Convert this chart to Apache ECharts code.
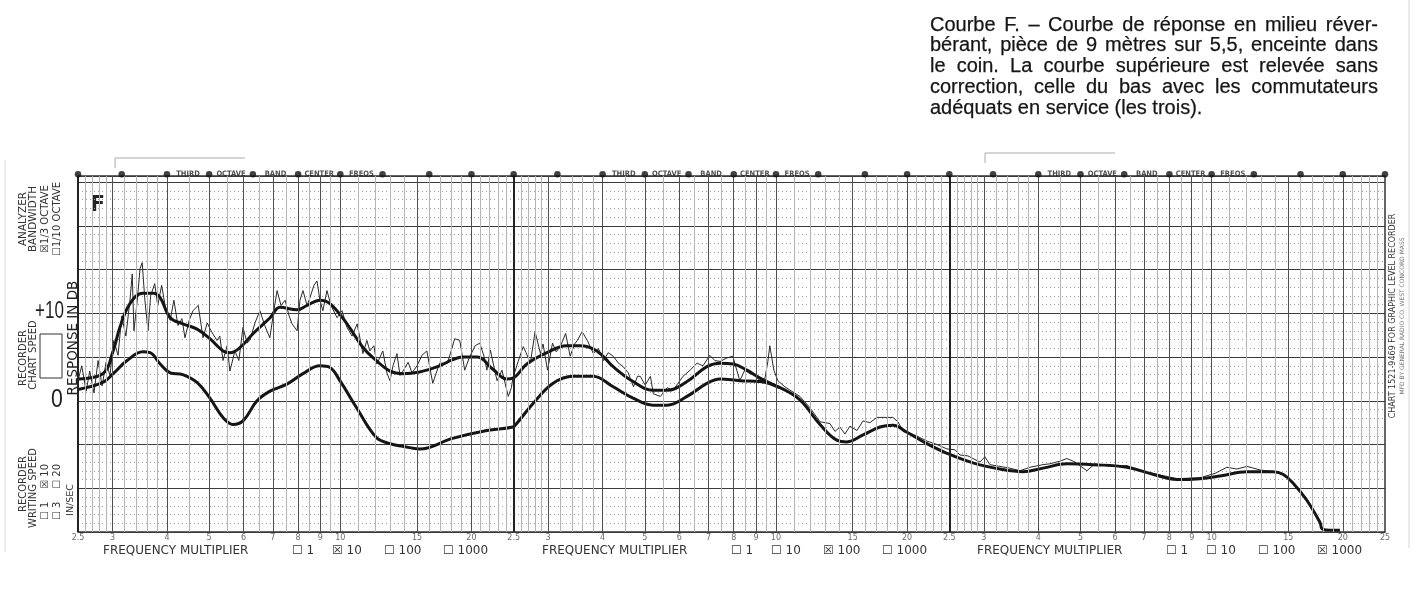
<!DOCTYPE html>
<html>
<head>
<meta charset="utf-8">
<script src="https://cdn.jsdelivr.net/npm/echarts@6/dist/echarts.min.js"></script>
<style>
  html, body { margin: 0; padding: 0; background: #fff; }
  #chart { width: 1416px; height: 593px; }
</style>
</head>
<body>
<div id="chart"></div>
<script>
// upper curve, taken without correction (smoothed pen trace), Hz / dB
const upperFreq = [25, 28.5, 30.1, 31.2, 32.9, 35.2, 37.2, 38.6, 40.7, 43.5, 46.9, 50.2, 53.8, 55.8, 58.9,
  63.1, 69, 72.7, 79.6, 83.9, 89.8, 94.7, 103.6, 112.7, 121, 130, 139, 152, 169, 181, 191, 206, 224, 241, 249,
  268, 298, 331, 355, 388, 423, 470, 522, 562, 625, 694, 744, 797, 858, 919, 1021];
const upperDb = [2.5, 3.1, 5.7, 8.4, 11.1, 12.3, 12.3, 11.8, 9.5, 8.8, 8.2, 7.1, 5.7, 5.5, 6.1,
  7.7, 9.5, 10.7, 10.4, 10.9, 11.5, 11.1, 8.8, 6.1, 4.6, 3.4, 3.1, 3.3, 4.0, 4.7, 5.0, 5.0, 3.6, 2.5, 2.6,
  4.2, 5.5, 6.3, 6.3, 5.7, 3.9, 2.2, 1.2, 1.2, 2.2, 3.9, 4.3, 4.2, 3.5, 2.6, 1.5];

// lower curve, with the three switches in service (joins the upper one above 1 kHz)
const lowerFreq = [25, 28.5, 30.1, 32.4, 35.2, 36.6, 38.6, 40.7, 43.5, 46.9, 50.2, 53.8, 56.7, 59.8, 64.4,
  69, 75.4, 82.1, 89.8, 94.7, 99.8, 109, 121, 130, 139, 152, 181, 217, 249, 254, 277, 308, 342, 380, 423,
  470, 522, 562, 625, 694, 744, 826, 919, 1021, 1135, 1262, 1380, 1455, 1585, 1733, 1855, 1998, 2221, 2468,
  2832, 3266, 3688, 4100, 4655, 5341, 6389, 7330, 8327, 9400, 10450, 12050, 13830, 14580, 15370, 16550,
  17730, 18000, 19700];
const lowerDb = [1.3, 2.1, 3.1, 4.6, 5.6, 5.5, 4.2, 3.2, 3.0, 2.1, 0.3, -1.9, -2.7, -2.3, 0,
  1.1, 1.9, 3.1, 4.0, 3.8, 2.3, -0.8, -4.2, -4.9, -5.2, -5.5, -4.3, -3.4, -3.0, -2.6, -0.3, 2.0, 2.8, 2.8, 1.6,
  0.3, -0.5, -0.5, 0.5, 2.0, 2.5, 2.3, 2.2, 1.5, 0.1, -2.7, -4.5, -4.7, -3.9, -3.0, -2.8, -3.6, -4.9, -6.0,
  -7.1, -7.8, -8.1, -7.7, -7.2, -7.3, -7.6, -8.4, -9.0, -8.9, -8.6, -8.1, -8.1, -8.4, -9.4, -11.4,
  -13.9, -14.7, -14.8];

// raw recorder trace of the upper curve
const rawFreq = [25, 25.5, 26.1, 26.6, 27.2, 27.8, 28.4, 29, 29.6, 30.2, 30.9, 31.5, 32.2, 32.9, 33.3, 33.6,
  34.2, 34.7, 35.1, 35.6, 36.2, 36.7, 37.5, 38.1, 38.9, 39.8, 40.7, 41.5, 42.4, 43.3, 44, 45, 45.9, 47.2,
  48.4, 49.5, 50.5, 52.1, 52.9, 53.8, 55, 55.8, 57.3, 58.5, 59.8, 61.1, 62, 63.7, 65.4, 67.1, 68.9, 70.4,
  71.6, 73.1, 74.7, 76.3, 77.5, 79.6, 80.8, 82.1, 83.9, 85.2, 87, 88.4, 89.8, 91.2, 93.2, 95.2, 98.3, 100.9,
  103.6, 106.4, 109.3, 112.7, 115.1, 116.9, 119.4, 121.3, 125.2, 127.9, 130, 132.1, 134.9, 137.1, 139.3,
  143.1, 146.1, 150, 154, 158,
  163, 169, 176, 180, 183, 188, 193, 198, 204, 209, 214, 217, 221, 225, 229, 235, 243, 247, 249, 256, 263,
  267, 273, 280, 288, 292, 299, 307, 313, 320, 329, 337, 345, 350, 359, 369, 381, 391, 402, 412, 423, 435,
  446, 458, 471, 481, 488, 501, 515, 523, 543, 563, 580, 596, 612, 635, 659, 680, 705, 724, 744, 772, 796,
  813, 826, 848, 871, 894, 918, 943, 958, 968, 978, 989, 1010, 1048,
  1135, 1197, 1262, 1330, 1366, 1402, 1440, 1478, 1534, 1584, 1643, 1705, 1798, 1855, 1905, 1956, 2080,
  2221, 2341, 2468, 2575, 2645, 2758, 2832, 2940, 3017, 3098, 3266, 3443, 3629, 3828, 4100, 4255, 4486,
  4655, 4856, 5172, 5398, 5842, 6389, 6848, 7330, 8327, 9400, 10180, 10840, 11430, 12050, 12910, 13830,
  14730, 15530, 16550, 17260, 17920, 18300];
const rawDb = [2.3, 4.0, 1.1, 3.4, 0.9, 4.6, 1.7, 4.4, 2.9, 6.9, 5.2, 9.7, 7.4, 11.5, 14.5, 8.0,
  11.5, 15.1, 15.8, 11.5, 8.0, 12.0, 13.4, 10.9, 13.2, 10.3, 9.2, 11.5, 8.6, 9.4, 7.2, 9.2, 10.3, 10.9,
  7.2, 8.9, 8.0, 6.9, 7.4, 4.6, 6.3, 3.4, 5.7, 4.6, 8.4, 6.6, 6.9, 8.9, 10.3, 8.6, 7.2, 10.3,
  12.6, 10.9, 11.5, 9.7, 8.8, 8.0, 11.5, 12.6, 10.9, 11.8, 13.2, 13.7, 11.5, 10.3, 12.6, 10.9, 9.5, 10.3,
  8.4, 7.4, 8.8, 5.4, 6.9, 5.7, 6.3, 4.2, 5.7, 3.2, 2.3, 4.0, 5.4, 2.9, 3.4,
  4.4, 3.2, 4.0, 5.2, 5.7,
  2.0, 4.3, 4.3, 5.8, 7.1, 6.9, 3.5, 5.0, 6.3, 6.6, 5.0, 3.5, 5.8, 4.0, 2.3, 3.5, 0.5, 1.5, 2.6, 4.5, 6.2,
  5.5, 4.3, 7.9, 5.4, 6.5, 3.5, 6.6, 5.6, 6.2, 7.7, 5.1, 6.5, 6.9, 7.9, 6.9, 5.4, 6.0, 4.6, 5.5, 5.1, 4.3,
  3.9, 3.2, 1.6, 2.8, 2.8, 1.8, 2.8, 0.8, 0.5, 1.5, 1.2, 2.0, 2.8, 3.5, 4.3, 4.0, 5.2, 4.6, 4.5, 4.9, 5.1,
  3.5, 2.3, 3.5, 3.1, 3.0, 2.3, 2.5, 4.5, 6.3, 6.3, 3.5, 2.3, 1.6,
  0.5, -0.8, -2.4, -2.6, -3.5, -3.0, -3.8, -2.9, -3.4, -2.3, -2.5, -1.9, -1.9, -1.9, -2.4, -3.4, -3.9,
  -4.6, -5.0, -5.5, -5.6, -6.2, -6.3, -6.6, -7.0, -6.4, -7.3, -7.5, -7.7, -8.0, -7.6, -7.3, -7.2, -6.9,
  -6.6, -7.0, -8.0, -7.2, -7.5, -7.4, -8.0, -8.3, -8.9, -8.8, -8.3, -7.6, -7.8, -7.5, -7.9, -8.1,
  -8.5, -9.6, -11.2, -12.8, -14.5, -14.8];

// paper printing: third octave band centres, tick multipliers
const thirdOctave = [25, 31.5, 40, 50, 63, 80, 100, 125, 160, 200, 250, 315, 400, 500, 630, 800, 1000,
  1250, 1600, 2000, 2500, 3150, 4000, 5000, 6300, 8000, 10000, 12500, 16000, 20000, 25000];
const bandWords = ['THIRD', 'OCTAVE', 'BAND', 'CENTER', 'FREQS'];
const bandStart = [2, 12, 22];
const tickMult = [2.5, 3, 4, 5, 6, 7, 8, 9, 10, 15, 20];
const tickText = ['2.5', '3', '4', '5', '6', '7', '8', '9', '10', '15', '20'];
const minorMult = [2.6, 2.7, 2.8, 2.9, 3.2, 3.4, 3.6, 3.8, 4.5, 5.5, 6.5, 7.5, 8.5, 9.5,
  11, 12, 13, 14, 16, 17, 18, 19, 21, 22, 23, 24];
const decades = [10, 100, 1000];
const multiplierText = ['1', '10', '100', '1000'];
const multiplierChecked = [1, 2, 3];

const yTop = 25.7;
const yBottom = -15;

const chart = echarts.init(document.getElementById('chart'));
const zip = (xs, ys) => xs.map((x, i) => [x, ys[i]]);

const gridLines = [];
decades.forEach((d) => {
  minorMult.forEach((m) => gridLines.push({ xAxis: m * d, lineStyle: { color: '#b4b4b4', width: 1, type: 'solid' } }));
  tickMult.forEach((m) => gridLines.push({
    xAxis: m * d,
    lineStyle: { color: m === 2.5 ? '#222' : '#505050', width: m === 2.5 ? 2 : 1, type: 'solid' },
  }));
});

const tickLabels = [];
decades.forEach((d) => tickMult.forEach((m, i) => tickLabels.push({ value: [m * d, yBottom], name: tickText[i] })));
tickLabels.push({ value: [25000, yBottom], name: '25' });

const words = [];
bandStart.forEach((s) => bandWords.forEach((w, k) => {
  words.push({ value: [Math.sqrt(thirdOctave[s + k] * thirdOctave[s + k + 1]), yTop + 0.2], name: w });
}));

const font = (size, weight) => (weight || 'normal') + ' ' + size + 'px "DejaVu Sans", sans-serif';
const vtext = (text, x, y, size, extra) => ({
  type: 'text', x, y, rotation: Math.PI / 2, silent: true,
  style: Object.assign({ text, font: font(size), fill: '#333', align: 'center', verticalAlign: 'middle' }, extra || {}),
});
const htext = (text, x, y, f, fill) => ({
  type: 'text', x, y, silent: true,
  style: { text, font: f, fill: fill || '#333', align: 'left', verticalAlign: 'middle' },
});

const caption = [
  'Courbe F. – Courbe de réponse en milieu réver-',
  'bérant, pièce de 9 mètres sur 5,5, enceinte dans',
  'le coin. La courbe supérieure est relevée sans',
  'correction, celle du bas avec les commutateurs',
  'adéquats en service (les trois).',
];
const captionFont = '20px "Liberation Sans", Arial, sans-serif';
const captionLeft = 930;
const captionWidth = 448;

// justified caption, word by word (last line left aligned)
const measure = document.createElement('canvas').getContext('2d');
measure.font = captionFont;
const graphics = [];
caption.forEach((line, i) => {
  const y = 25 + i * 20.8;
  const parts = line.split(' ');
  const widths = parts.map((p) => measure.measureText(p).width);
  const used = widths.reduce((a, b) => a + b, 0);
  const last = i === caption.length - 1;
  const gap = last ? measure.measureText(' ').width : (captionWidth - used) / (parts.length - 1);
  let x = captionLeft;
  parts.forEach((p, j) => {
    graphics.push({
      type: 'text', x, y, silent: true,
      style: { text: p, font: captionFont, fill: '#161616', stroke: '#161616', lineWidth: 0.25, align: 'left', verticalAlign: 'middle' },
    });
    x += widths[j] + gap;
  });
});

// recorder paper margin printing
graphics.push(
  vtext('ANALYZER', 23, 219, 10.5),
  vtext('BANDWIDTH', 33, 219, 10.5),
  vtext('☒1/3 OCTAVE', 45, 219, 10),
  vtext('☐1/10 OCTAVE', 57, 219, 10),
  vtext('RECORDER', 23, 358, 10),
  vtext('CHART SPEED', 33, 355, 10),
  vtext('RECORDER', 23, 484, 10),
  vtext('WRITING SPEED', 33, 488, 10),
  vtext('☐ 1    ☒ 10', 45, 492, 10),
  vtext('☐ 3    ☐ 20', 57, 492, 10),
  vtext('IN/SEC', 71, 500, 9.5),
  vtext('RESPONSE IN DB', 73, 338, 13.5, { fill: '#222' }),
  vtext('CHART 1521-9469 FOR GRAPHIC LEVEL RECORDER', 1393, 316, 8),
  vtext('MFD BY GENERAL RADIO CO. WEST CONCORD MASS', 1402, 316, 6, { fill: '#777' }),
  { type: 'rect', silent: true, shape: { x: 40, y: 334, width: 22, height: 44 }, style: { fill: 'none', stroke: '#333', lineWidth: 1 } },
  Object.assign(htext('+10', 35, 312, '23px "Liberation Sans", Arial, sans-serif', '#1e1e1e'), { scaleX: 0.74 }),
  Object.assign(htext('0', 51, 400, '25px "Liberation Sans", Arial, sans-serif', '#1e1e1e'), { scaleX: 0.85 }),
  htext('F', 90, 205, font(22, 'bold'), '#222'),
  { type: 'polyline', silent: true, shape: { points: [[115, 168], [115, 158], [245, 158]] }, style: { stroke: '#aaa', lineWidth: 1 } },
  { type: 'polyline', silent: true, shape: { points: [[985, 163], [985, 153], [1115, 153]] }, style: { stroke: '#aaa', lineWidth: 1 } },
  { type: 'line', silent: true, shape: { x1: 5, y1: 160, x2: 5, y2: 552 }, style: { stroke: '#d6d6d6', lineWidth: 1 } },
  { type: 'line', silent: true, shape: { x1: 1409, y1: 0, x2: 1409, y2: 548 }, style: { stroke: '#d6d6d6', lineWidth: 1 } }
);

const groupX = [103, 542, 977];
const optionOffset = [189, 229, 281, 340];
groupX.forEach((gx, g) => {
  graphics.push(htext('FREQUENCY MULTIPLIER', gx, 551, font(12), '#333'));
  multiplierText.forEach((t, i) => {
    const box = i === multiplierChecked[g] ? '☒' : '☐';
    graphics.push(htext(box + ' ' + t, gx + optionOffset[i], 551, font(12), '#333'));
  });
});

chart.setOption({
  animation: false,
  backgroundColor: '#fff',
  grid: { left: 78, right: 31, top: 176, bottom: 61, show: true, borderColor: '#333', borderWidth: 1.5, backgroundColor: 'transparent' },
  xAxis: {
    type: 'log', logBase: 10, min: 25, max: 25000,
    axisLine: { show: false }, axisTick: { show: false }, axisLabel: { show: false }, splitLine: { show: false },
  },
  yAxis: {
    type: 'value', min: yBottom, max: yTop, interval: 5,
    axisLine: { show: false }, axisTick: { show: false }, axisLabel: { show: false },
    splitLine: { lineStyle: { color: '#3a3a3a', width: 1.2 } },
    minorTick: { show: false, splitNumber: 5 },
    minorSplitLine: { show: true, lineStyle: { color: '#9c9c9c', width: 1, type: [1, 3] } },
  },
  graphic: graphics,
  series: [
    {
      type: 'line', data: [], silent: true, z: 1,
      markLine: { silent: true, symbol: ['none', 'none'], label: { show: false }, data: gridLines },
    },
    {
      name: 'raw', type: 'line', data: zip(rawFreq, rawDb), symbol: 'none', z: 3,
      lineStyle: { color: '#2a2a2a', width: 1 },
    },
    {
      name: 'upper', type: 'line', data: zip(upperFreq, upperDb), symbol: 'none', smooth: 0.4, z: 4,
      lineStyle: { color: '#151515', width: 3 },
    },
    {
      name: 'lower', type: 'line', data: zip(lowerFreq, lowerDb), symbol: 'none', smooth: 0.4, z: 4,
      lineStyle: { color: '#151515', width: 3 },
    },
    {
      name: 'bands', type: 'scatter', data: thirdOctave.map((f) => [f, yTop + 0.2]), symbolSize: 6.5, clip: false, z: 5,
      itemStyle: { color: '#111' },
    },
    {
      name: 'bandWords', type: 'scatter', data: words, symbolSize: 0, clip: false, z: 5,
      label: { show: true, position: 'inside', formatter: '{b}', fontSize: 7.5, fontWeight: 'bold', color: '#222', fontFamily: '"DejaVu Sans Condensed", "DejaVu Sans", sans-serif' },
    },
    {
      name: 'ticks', type: 'scatter', data: tickLabels, symbolSize: 0, clip: false, z: 5,
      label: { show: true, position: 'bottom', distance: 2, formatter: '{b}', fontSize: 8, color: '#444', fontFamily: '"DejaVu Sans", sans-serif' },
    },
  ],
});
</script>
</body>
</html>
